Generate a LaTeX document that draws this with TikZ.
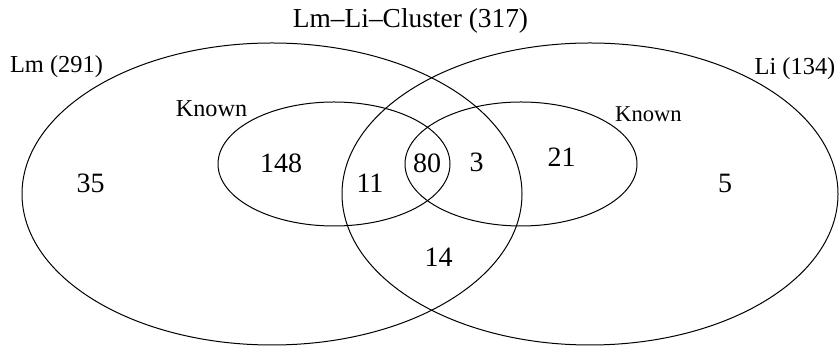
\documentclass[tikz,border=0pt]{standalone}
\usepackage{fontspec}
\setmainfont{Liberation Serif}
\usetikzlibrary{shapes.geometric, positioning}
\definecolor{setline}{HTML}{000000}
\tikzset{
  setbox/.style={ellipse, draw=setline, line width=0.5pt, inner sep=0pt},
  bigset/.style={setbox, minimum height=151pt},
  knownset/.style={setbox, minimum width=116pt, minimum height=62pt},
  countlabel/.style={anchor=base, inner sep=0pt, font=\fontsize{14}{16}\selectfont},
  setlabel/.style={anchor=base, inner sep=0pt, font=\fontsize{12.2}{14}\selectfont},
}
\begin{document}
\begin{tikzpicture}[x=0.5pt, y=-0.5pt]
  \useasboundingbox (0,0) rectangle (840,346);

  % the two organisms
  \node[bigset, minimum width=250pt] (lm) at (272,194) {};
  \node[bigset, minimum width=248pt] (li) at (590,194) {};
  % known members
  \node[knownset] (knownlm) at (334,164) {};
  \node[knownset] (knownli) at (521,164) {};

  % set names
  \node[setlabel, font=\fontsize{13.7}{16}\selectfont] (cluster) at (410.5,28) {Lm--Li--Cluster (317)};
  \node[setlabel] (lmname) at (56.5,73) {Lm (291)};
  \node[setlabel] (liname) at (795,75) {Li (134)};
  \node[setlabel, font=\fontsize{12.1}{14}\selectfont] (knownlmname) at (211.5,117) {Known};
  \node[setlabel, font=\fontsize{11.3}{13}\selectfont] (knownliname) at (648.5,121.5) {Known};

  % counts
  \node[countlabel] (n35)  at (90.5,193)  {35};
  \node[countlabel] (n148) at (281,173)   {148};
  \node[countlabel] (n11)  at (370,193)   {11};
  \node[countlabel] (n80)  at (427,173)   {80};
  \node[countlabel] (n3)   at (476.5,172) {3};
  \node[countlabel] (n21)  at (561.5,167) {21};
  \node[countlabel] (n14)  at (438.5,267) {14};
  \node[countlabel] (n5)   at (725,193)   {5};
\end{tikzpicture}
\end{document}
